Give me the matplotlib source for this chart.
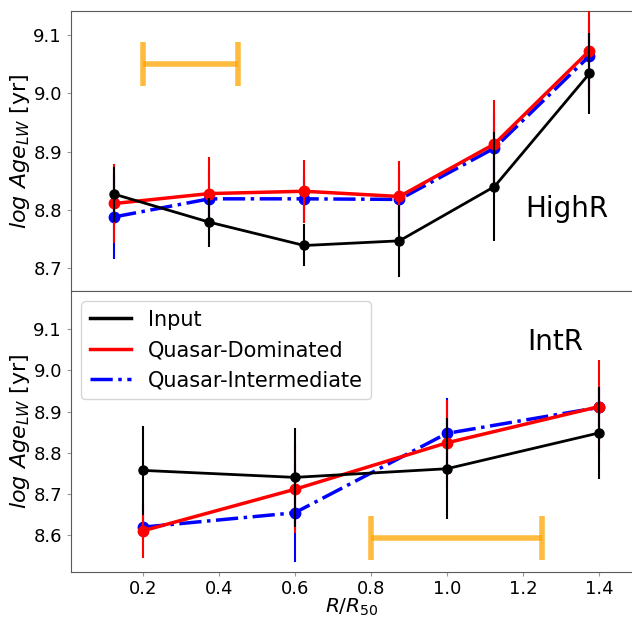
import matplotlib
matplotlib.use("Agg")
import matplotlib.pyplot as plt
from matplotlib.lines import Line2D

# ---- data: top panel (HighR) ----
x_top = [0.125, 0.375, 0.625, 0.875, 1.125, 1.375]
input_top = [8.827, 8.779, 8.739, 8.747, 8.840, 9.034]
input_top_err = [0.047, 0.042, 0.036, 0.062, 0.093, 0.07]
qd_top = [8.811, 8.828, 8.832, 8.823, 8.913, 9.073]
qd_top_err = [0.067, 0.062, 0.054, 0.061, 0.075, 0.085]
qi_top = [8.788, 8.819, 8.819, 8.818, 8.906, 9.064]
qi_top_err = [0.073, 0.05, 0.04, 0.05, 0.06, 0.06]

# ---- data: bottom panel (IntR) ----
x_bot = [0.2, 0.6, 1.0, 1.4]
input_bot = [8.757, 8.740, 8.761, 8.848]
input_bot_err = [0.108, 0.121, 0.123, 0.112]
qd_bot = [8.610, 8.711, 8.824, 8.912]
qd_bot_err = [0.065, 0.107, 0.104, 0.113]
qi_bot = [8.619, 8.654, 8.847, 8.910]
qi_bot_err = [0.03, 0.119, 0.087, 0.05]

# orange scale bars: (center, half-width, y)
bar_top = (0.325, 0.125, 9.05)
bar_bot = (1.025, 0.225, 8.592)

labels = ["Input", "Quasar-Dominated", "Quasar-Intermediate"]
xticks = [0.2, 0.4, 0.6, 0.8, 1.0, 1.2, 1.4]

fig = plt.figure(figsize=(6.32, 6.19), dpi=100)
W = (632 - 71) / 632
ax1 = fig.add_axes([71/632, 1-291/619, W, (291-11)/619])
ax2 = fig.add_axes([71/632, 1-572/619, W, (572-291)/619], sharex=ax1)

def draw(ax, x, inp, inp_e, qd, qd_e, qi, qi_e):
    ax.errorbar(x, qi, yerr=qi_e, color='blue', ls='-.', lw=2.5, marker='o',
                ms=7.5, elinewidth=1.5, zorder=2)
    ax.errorbar(x, qd, yerr=qd_e, color='red', ls='-', lw=2.5, marker='o',
                ms=7.5, elinewidth=1.5, zorder=3)
    ax.errorbar(x, inp, yerr=inp_e, color='black', ls='-', lw=2, marker='o',
                ms=6.5, elinewidth=1.5, zorder=4)

draw(ax1, x_top, input_top, input_top_err, qd_top, qd_top_err, qi_top, qi_top_err)
draw(ax2, x_bot, input_bot, input_bot_err, qd_bot, qd_bot_err, qi_bot, qi_bot_err)

for ax, b in ((ax1, bar_top), (ax2, bar_bot)):
    ax.errorbar([b[0]], [b[2]], xerr=[b[1]], color='orange', alpha=0.75, lw=4,
                capsize=16, capthick=4, fmt='none')

ax1.set_xlim(0.0114, 1.4868)
ax1.set_ylim(8.661, 9.141)
ax2.set_ylim(8.51, 9.193)
ax1.set_yticks([8.7, 8.8, 8.9, 9.0, 9.1])
ax2.set_yticks([8.6, 8.7, 8.8, 8.9, 9.0, 9.1])
ax2.set_xticks(xticks)
ax1.tick_params(axis='x', which='both', bottom=False, labelbottom=False)
for ax in (ax1, ax2):
    ax.tick_params(labelsize=13, length=3, color='0.6')
    ax.spines['right'].set_visible(False)
    for s in ('left', 'top', 'bottom'):
        ax.spines[s].set_color('0.35')
    ax.set_ylabel(r'$log\ Age_{LW}$ [yr]', fontsize=16)
    ax.yaxis.set_label_coords(-0.07, 0.5)
ax2.tick_params(axis='x', pad=2.5)

ax1.text(1.315, 8.801, 'HighR', fontsize=20, ha='center', va='center')
ax2.text(1.284, 9.069, 'IntR', fontsize=20, ha='center', va='center')
ax2.set_xlabel(r'$R/R_{50}$', fontsize=14.5)
ax2.xaxis.label.set_va('bottom')
ax2.xaxis.set_label_coords(0.5, -0.163)

handles = [Line2D([], [], color='black', lw=2.5, ls='-'),
           Line2D([], [], color='red', lw=2.5, ls='-'),
           Line2D([], [], color='blue', lw=2.5, ls='-.')]
ax2.legend(handles, labels, loc='upper left', fontsize=15, handlelength=2,
           bbox_to_anchor=(0.0, 1.0))

fig.savefig('out.png', dpi=100)
